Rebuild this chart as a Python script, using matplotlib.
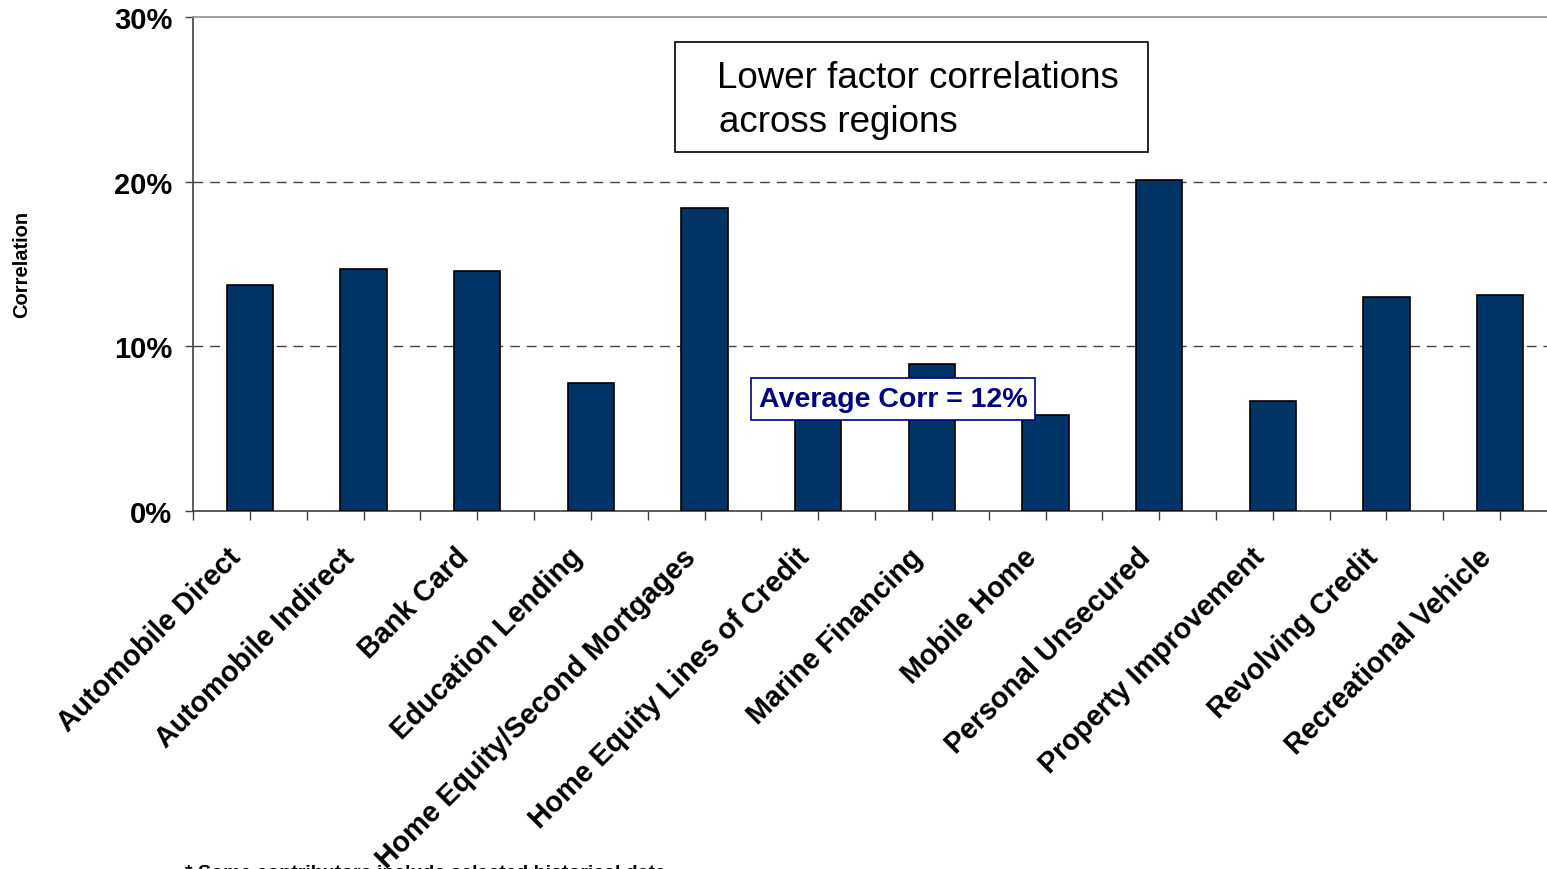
import numpy as np
import matplotlib
matplotlib.use("Agg")
import matplotlib.pyplot as plt
from matplotlib.patches import Rectangle
from matplotlib.ticker import FuncFormatter
from matplotlib.transforms import ScaledTranslation

plt.rcParams["font.family"] = ["Liberation Sans", "DejaVu Sans"]

# Average factor correlation by asset class (%)
categories = [
    "Automobile Direct", "Automobile Indirect", "Bank Card", "Education Lending",
    "Home Equity/Second Mortgages", "Home Equity Lines of Credit", "Marine Financing",
    "Mobile Home", "Personal Unsecured", "Property Improvement", "Revolving Credit",
    "Recreational Vehicle",
]
correlations = [13.7, 14.7, 14.6, 7.8, 18.4, 7.3, 8.9, 5.8, 20.1, 6.7, 13.0, 13.1]
y_ticks = [0, 10, 20, 30]

W, H = 1547, 870
fig = plt.figure(figsize=(W / 100, H / 100), dpi=100)

# axes run a little past the right edge of the canvas
left, right, top, bottom = 193, 1557, 18, 512
ax = fig.add_axes([left / W, 1 - bottom / H, (right - left) / W, (bottom - top) / H])

x = np.arange(len(categories))
ax.bar(x, correlations, width=0.41, color="#003366", edgecolor="black",
       linewidth=1.2, zorder=3)

ax.set_xlim(-0.5, len(categories) - 0.5)
ax.set_ylim(0, 30)
ax.set_yticks(y_ticks)
ax.yaxis.set_major_formatter(FuncFormatter(lambda v, _: f"{v:.0f}%"))
for t in ax.get_yticklabels():
    t.set_fontweight("bold")
ax.tick_params(axis="y", direction="out", length=6, width=1, color="#404040",
               labelsize=21, pad=9)

ax.set_xticks(x)
ax.set_xticks(np.arange(-0.5, len(categories), 1.0), minor=True)
ax.set_xticklabels(categories, rotation=45, ha="right", va="center",
                   rotation_mode="anchor", fontsize=20.6, fontweight="bold")
ax.tick_params(axis="x", which="both", direction="out", length=6.5, width=1,
               color="#404040", pad=14)
# slide the slanted labels back along their baseline
shift = ScaledTranslation(-0.13, -0.13, fig.dpi_scale_trans)
for lbl in ax.get_xticklabels():
    lbl.set_transform(lbl.get_transform() + shift)

# dashed reference lines at 10% and 20%
for yv in (10, 20):
    ax.axhline(yv, color="#404040", linewidth=1, dashes=(7, 5), zorder=1)

ax.spines["right"].set_visible(False)
ax.spines["top"].set_color("#909090")
ax.spines["left"].set_color("#404040")
ax.spines["bottom"].set_color("#404040")
for s in ("left", "bottom", "top"):
    ax.spines[s].set_linewidth(1.2)

fig.text(22 / W, 1 - 264 / H, "Correlation", rotation=90, ha="center",
         va="center", fontsize=14.5, fontweight="bold")

avg = np.mean(correlations)
ax.text(5.66, 6.83, f"Average Corr = {avg:.0f}%", ha="center", va="center",
        fontsize=20.5, fontweight="bold", color="#000080", zorder=5,
        bbox=dict(boxstyle="square,pad=0.28", facecolor="white",
                  edgecolor="#000080", linewidth=1.2))

# callout box in the upper area
fig.patches.append(Rectangle((675 / W, 1 - 153 / H), (1148 - 675) / W, 110 / H,
                             transform=fig.transFigure, facecolor="white",
                             edgecolor="black", linewidth=1.2, zorder=4))
fig.text(717 / W, 1 - 78 / H, "Lower factor correlations",
         ha="left", va="center", fontsize=26.5, zorder=6)
fig.text(719 / W, 1 - 122 / H, "across regions",
         ha="left", va="center", fontsize=26.5, zorder=6)

fig.text(185 / W, -8 / H, "* Some contributors include selected historical data",
         ha="left", va="baseline", fontsize=14, fontweight="bold")

fig.savefig("out.png", dpi=100)
